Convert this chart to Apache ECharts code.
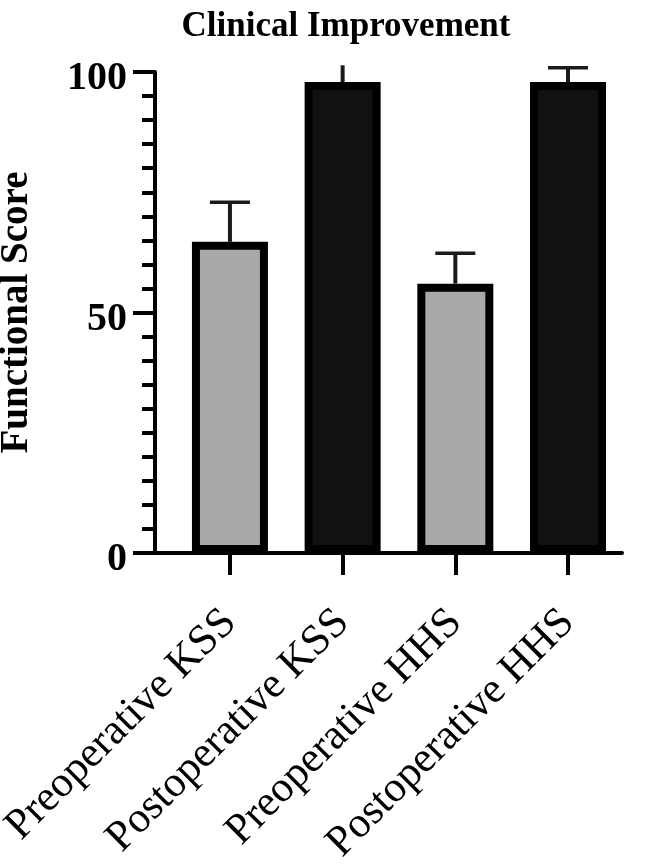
<!DOCTYPE html>
<html>
<head>
<meta charset="utf-8">
<script src="https://cdn.jsdelivr.net/npm/echarts@6/dist/echarts.min.js"></script>
<style>
html,body{margin:0;padding:0;background:#fff;}
#chart{width:645px;height:864px;}
</style>
</head>
<body>
<div id="chart"></div>
<script>
// ---- data ----
const categories = ['Preoperative KSS', 'Postoperative KSS', 'Preoperative HHS', 'Postoperative HHS'];
const groups = ['pre', 'post', 'pre', 'post'];
const means = [64.7, 97.9, 56.0, 97.9];
const errUpper = [72.9, 101.4, 62.3, 100.9];
const errHasCap = [true, false, true, true];
const yTicks = [0, 50, 100];

// ---- styles ----
const FONT = '"Liberation Serif", "Times New Roman", serif';
const fillByGroup = { pre: '#a9a9a9', post: '#111111' };

const chart = echarts.init(document.getElementById('chart'), null, { renderer: 'canvas' });

const barData = means.map((v, i) => ({
  value: [i, v],
  itemStyle: { color: fillByGroup[groups[i]] }
}));
const errData = means.map((v, i) => [i, v, errUpper[i], errHasCap[i] ? 1 : 0]);

chart.setOption({
  backgroundColor: '#ffffff',
  animation: false,
  title: {
    text: 'Clinical Improvement',
    left: 341,
    textAlign: 'center',
    top: 4,
    textStyle: { fontFamily: FONT, fontSize: 35, fontWeight: 'bold', color: '#000' }
  },
  grid: { left: 155, right: 23, top: 72, bottom: 311, containLabel: false, outerBoundsMode: 'none' },
  xAxis: {
    type: 'value',
    min: -0.665,
    max: 3.479,
    splitLine: { show: false },
    axisLine: { show: true, onZero: false, lineStyle: { color: '#000', width: 4 } },
    axisTick: {
      show: true, length: 22, lineStyle: { color: '#000', width: 4 },
      customValues: categories.map((c, i) => i)
    },
    axisLabel: {
      show: true,
      customValues: categories.map((c, i) => i),
      formatter: v => categories[Math.round(v)],
      rotate: 45,
      margin: 63,
      fontFamily: FONT, fontSize: 43, color: '#000'
    }
  },
  yAxis: {
    type: 'value',
    min: 0, max: 100, interval: 50,
    name: 'Functional Score',
    nameLocation: 'middle',
    nameGap: 119,
    nameMoveOverlap: false,
    nameTextStyle: { fontFamily: FONT, fontSize: 39, fontWeight: 'bold', color: '#000' },
    splitLine: { show: false },
    axisLine: { show: true, onZero: false, lineStyle: { color: '#000', width: 4 } },
    axisTick: { show: true, length: 22, lineStyle: { color: '#000', width: 4 } },
    minorTick: { show: true, splitNumber: 10, length: 13, lineStyle: { color: '#000', width: 4 } },
    axisLabel: {
      margin: 28,
      customValues: yTicks,
      formatter: '{v|{value}}',
      rich: {
        v: { fontFamily: FONT, fontSize: 40, fontWeight: 'bold', color: '#000', padding: [14, 0, 0, 0] }
      }
    }
  },
  series: [
    {
      type: 'bar',
      data: barData,
      barWidth: 76,
      itemStyle: { borderColor: '#000', borderWidth: 8 },
      z: 2
    },
    {
      type: 'custom',
      data: errData,
      clip: false,
      z: 1,
      renderItem: function (params, api) {
        const x = api.value(0);
        const base = api.coord([x, api.value(1)]);
        const top = api.coord([x, api.value(2)]);
        const children = [{
          type: 'line',
          shape: { x1: base[0], y1: base[1], x2: top[0], y2: top[1] },
          style: { stroke: '#1a1a1a', lineWidth: 4 }
        }];
        if (api.value(3)) {
          children.push({
            type: 'line',
            shape: { x1: top[0] - 20, y1: top[1], x2: top[0] + 20, y2: top[1] },
            style: { stroke: '#1a1a1a', lineWidth: 3.5 }
          });
        }
        return { type: 'group', children: children };
      }
    }
  ]
});
</script>
</body>
</html>
